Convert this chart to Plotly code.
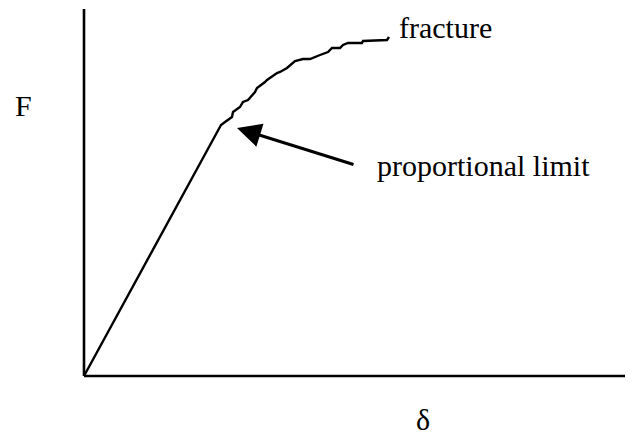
import plotly.graph_objects as go

# Load-deflection curve (arbitrary units: delta, F)
delta = [0.0, 13.7, 14.1, 14.8, 14.9, 15.6, 15.9, 16.4, 17.1, 17.3, 18.1, 18.3,
         19.3, 19.6, 20.3, 20.8, 21.1, 21.9, 22.6, 23.6, 24.4, 24.8, 25.6, 25.9,
         26.4, 27.8, 27.9, 30.3, 30.5]
force = [0.0, 25.1, 25.4, 25.9, 26.4, 26.9, 27.4, 27.6, 28.4, 28.8, 29.4, 29.6,
         30.3, 30.4, 30.8, 31.3, 31.5, 31.7, 31.7, 32.1, 32.4, 32.8, 32.8, 33.1,
         33.3, 33.3, 33.5, 33.6, 33.9]

# Axis extents
x_axis_end = 54.9
y_axis_end = 36.7

# Labels
x_label = "δ"
y_label = "F"
fracture_label = "fracture"
prop_label = "proportional limit"
prop_point = (15.3, 24.8)
prop_tail = (27.1, 21.1)

font = dict(family="Liberation Serif, Times New Roman, serif", size=30, color="black")

fig = go.Figure()
fig.add_trace(go.Scatter(x=[0, x_axis_end], y=[0, 0], mode="lines",
                         line=dict(color="black", width=2.6), hoverinfo="skip"))
fig.add_trace(go.Scatter(x=[0, 0], y=[0, y_axis_end], mode="lines",
                         line=dict(color="black", width=2.6), hoverinfo="skip"))
fig.add_trace(go.Scatter(x=delta, y=force, mode="lines",
                         line=dict(color="black", width=2.4), hoverinfo="skip"))

fig.add_annotation(x=-7.1, y=27.1, text=y_label, showarrow=False,
                   xanchor="left", yanchor="middle", font=font)
fig.add_annotation(x=33.9, y=-4.3, text=x_label, showarrow=False,
                   xanchor="center", yanchor="middle", font=font, borderpad=0)
fig.add_annotation(x=31.3, y=34.9, text=fracture_label, showarrow=False,
                   xanchor="left", yanchor="middle", font=font)
fig.add_annotation(x=29.1, y=21.1, text=prop_label, showarrow=False,
                   xanchor="left", yanchor="middle", font=font)
fig.add_annotation(x=prop_point[0], y=prop_point[1], ax=prop_tail[0], ay=prop_tail[1],
                   axref="x", ayref="y", xref="x", yref="y", text="",
                   showarrow=True, arrowhead=2, arrowsize=1.6, arrowwidth=3,
                   arrowcolor="black", standoff=0)

# The page body has an 8px margin, so the figure is sized to fit the window
fig.update_layout(
    width=625, height=427,
    margin=dict(l=0, r=0, t=0, b=0),
    paper_bgcolor="white", plot_bgcolor="white",
    showlegend=False,
    xaxis=dict(range=[-7.6, 54.9], visible=False, fixedrange=True),
    yaxis=dict(range=[-5.9, 36.8], visible=False, fixedrange=True),
)

fig.write_html("out.html")
